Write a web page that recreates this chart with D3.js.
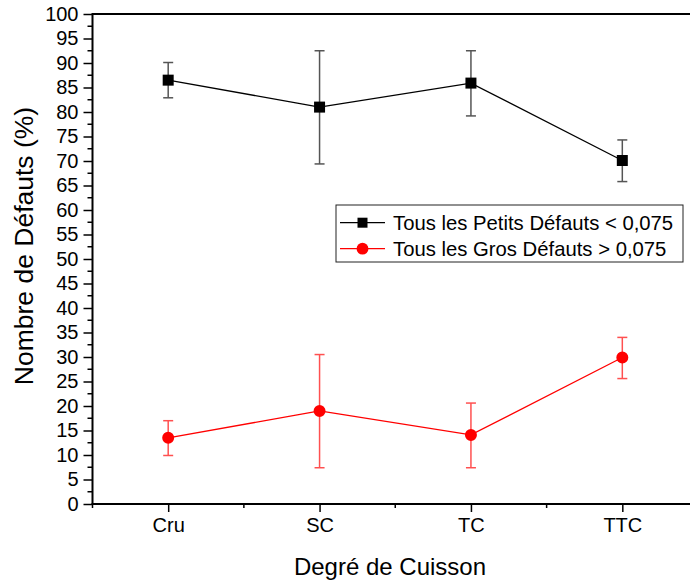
<!DOCTYPE html>
<html><head><meta charset="utf-8">
<script src="https://cdn.jsdelivr.net/npm/d3@7"></script>
<style>body{margin:0;background:#fff}svg{display:block;font-family:Arial,"Liberation Sans",sans-serif}</style>
</head><body><svg id="c" width="690" height="585"></svg>
<script>
const categories = ["Cru","SC","TC","TTC"];
const petitsMean = [86.5, 81.0, 85.9, 70.1];
const petitsLow  = [82.9, 69.4, 79.2, 65.8];
const petitsHigh = [90.1, 92.5, 92.5, 74.3];
const grosMean = [13.5, 19.0, 14.1, 29.9];
const grosLow  = [9.9, 7.4, 7.4, 25.6];
const grosHigh = [17.0, 30.5, 20.6, 34.0];
const yTicks = d3.range(0, 101, 5);
const seriesNames = ["Tous les Petits Défauts < 0,075", "Tous les Gros Défauts > 0,075"];

const svg = d3.select("#c");
const L = 92.5, R = 698, T = 14, B = 504;
const x = d3.scaleLinear().domain([0.5, 4.5]).range([L, R]);
const y = d3.scaleLinear().domain([0, 100]).range([B, T]);

// frame top
svg.append("line").attr("x1", L).attr("x2", R).attr("y1", T).attr("y2", T).attr("stroke", "#000").attr("stroke-width", 2);
svg.append("line").attr("x1", R).attr("x2", R).attr("y1", T).attr("y2", B).attr("stroke", "#000").attr("stroke-width", 2);

// y axis
const yAx = svg.append("g").attr("transform", `translate(${L},0)`)
  .call(d3.axisLeft(y).tickValues(yTicks).tickSize(9).tickPadding(5).tickFormat(d3.format("d")));
yAx.call(g => g.select(".domain").remove());
yAx.selectAll(".tick line").attr("stroke-width", 1.5);
yAx.selectAll("text").attr("font-size", 20).attr("fill", "#000");
svg.append("g").selectAll("line").data(d3.range(2.5, 100, 5)).join("line")
  .attr("x1", L - 5).attr("x2", L).attr("y1", d => y(d)).attr("y2", d => y(d)).attr("stroke", "#000").attr("stroke-width", 1.5);
svg.append("line").attr("x1", L).attr("x2", L).attr("y1", T - 1).attr("y2", B + 1).attr("stroke", "#000").attr("stroke-width", 2);

// x axis
const xAx = svg.append("g").attr("transform", `translate(0,${B})`)
  .call(d3.axisBottom(x).tickValues([1,2,3,4]).tickSize(8).tickPadding(6).tickFormat(d => categories[d-1]));
xAx.call(g => g.select(".domain").remove());
xAx.selectAll(".tick line").attr("stroke-width", 1.5);
xAx.selectAll("text").attr("font-size", 20).attr("fill", "#000");
svg.append("g").selectAll("line").data([0.5,1.5,2.5,3.5,4.5]).join("line")
  .attr("x1", d => x(d)).attr("x2", d => x(d)).attr("y1", B).attr("y2", B + 4).attr("stroke", "#000").attr("stroke-width", 1.5);
svg.append("line").attr("x1", L - 1).attr("x2", R).attr("y1", B).attr("y2", B).attr("stroke", "#000").attr("stroke-width", 2);

// titles
svg.append("text").attr("x", 390).attr("y", 575).attr("text-anchor", "middle").attr("font-size", 24).text("Degré de Cuisson");
svg.append("text").attr("transform", "translate(33,246) rotate(-90)").attr("text-anchor", "middle").attr("font-size", 26.5).text("Nombre de Défauts (%)");

function drawSeries(mean, lo, hi, color, errColor, shape) {
  const g = svg.append("g");
  const line = d3.line().x((d, i) => x(i + 1)).y(d => y(d));
  g.append("path").datum(mean).attr("d", line).attr("fill", "none").attr("stroke", color).attr("stroke-width", 1.3);
  mean.forEach((m, i) => {
    const cx = x(i + 1);
    g.append("line").attr("x1", cx).attr("x2", cx).attr("y1", y(lo[i])).attr("y2", y(hi[i])).attr("stroke", errColor).attr("stroke-width", 1.5);
    [lo[i], hi[i]].forEach(v => g.append("line").attr("x1", cx - 5).attr("x2", cx + 5).attr("y1", y(v)).attr("y2", y(v)).attr("stroke", errColor).attr("stroke-width", 1.5));
  });
  g.selectAll(".m").data(mean).join("path")
    .attr("transform", (d, i) => `translate(${x(i + 1)},${y(d)})`)
    .attr("d", d3.symbol().type(shape).size(shape === d3.symbolSquare ? 121 : 113))
    .attr("fill", color);
}
drawSeries(petitsMean, petitsLow, petitsHigh, "#000", "#555", d3.symbolSquare);
drawSeries(grosMean, grosLow, grosHigh, "#ff0000", "#ff5050", d3.symbolCircle);

// legend
const lg = svg.append("g");
lg.append("rect").attr("x", 336).attr("y", 205).attr("width", 347).attr("height", 57).attr("fill", "#fff").attr("stroke", "#222").attr("stroke-width", 1);
const legendColors = ["#000", "#ff0000"];
const legendShapes = [d3.symbolSquare, d3.symbolCircle];
seriesNames.forEach((name, i) => {
  const cy = 222.7 + i * 26;
  lg.append("line").attr("x1", 340).attr("x2", 385).attr("y1", cy).attr("y2", cy).attr("stroke", legendColors[i]).attr("stroke-width", 1.2);
  lg.append("path").attr("transform", `translate(362.5,${cy})`).attr("d", d3.symbol().type(legendShapes[i]).size(i === 0 ? 100 : 110)).attr("fill", legendColors[i]);
  lg.append("text").attr("x", 393).attr("y", cy + 7).attr("font-size", 20.3).text(name);
});
</script></body></html>
